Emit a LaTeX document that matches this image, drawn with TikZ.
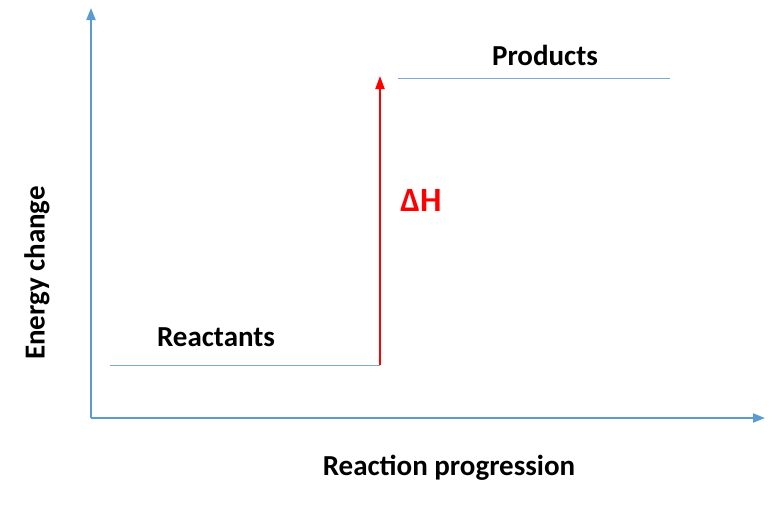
\documentclass[tikz,border=0pt]{standalone}
\usepackage{fontspec}
\setmainfont{Carlito}
\usetikzlibrary{arrows.meta}
\definecolor{axblue}{RGB}{91,155,213}
\definecolor{lineblue}{RGB}{120,170,220}
\begin{document}
\begin{tikzpicture}[x=1pt,y=-1pt,
  lbl/.style={font=\fontsize{29}{34}\selectfont\bfseries,inner sep=0pt},
  axis/.style={draw=axblue,line width=2pt,-{Triangle[length=12pt,width=9pt]}},
  level/.style={draw=lineblue,line width=1pt}]
\useasboundingbox (0,0) rectangle (782,522);
\coordinate (o) at (91,418);
\coordinate (ytop) at (91,8);
\coordinate (xend) at (765,418);
\draw[axis] (o) -- (ytop);
\draw[axis] (o) -- (xend);
\coordinate (r1) at (110,365);
\coordinate (r2) at (380,365);
\coordinate (p1) at (398,78);
\coordinate (p2) at (670,78);
\draw[level] (r1) -- (r2);
\draw[level] (p1) -- (p2);
\coordinate (atop) at (380,76);
\draw[red,line width=2pt,-{Triangle[length=13pt,width=9pt]}] (r2) -- (atop);
\node[lbl] (react) at (216,337) {Reactants};
\node[lbl] (prod) at (545,55) {Products};
\node[lbl,text=red,font=\fontsize{34}{40}\selectfont\bfseries] (dh) at (421,200) {ΔH};
\node[lbl] (xl) at (449,468) {Reaction progression};
\node[lbl,rotate=90] (yl) at (37,273) {Energy change};
\end{tikzpicture}
\end{document}
